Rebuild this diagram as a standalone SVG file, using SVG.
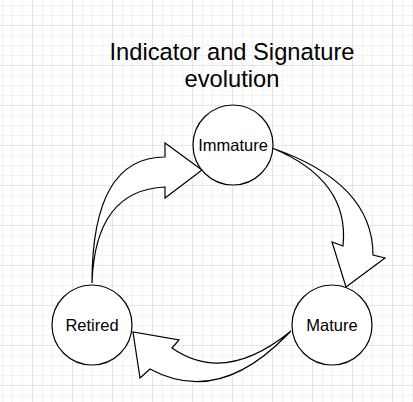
<svg xmlns="http://www.w3.org/2000/svg" width="413" height="402" viewBox="0 0 413 402">
  <style>
    .node circle { fill: #ffffff; stroke: #000000; stroke-width: 1.2; }
    .node text { font-family: "Liberation Sans", Arial, sans-serif; font-size: 16.5px; fill: #000000; text-anchor: middle; }
    .title { font-family: "Liberation Sans", Arial, sans-serif; font-size: 23.7px; fill: #000000; text-anchor: middle; }
    .arrow { fill: #ffffff; stroke: #000000; stroke-width: 1.2; stroke-linejoin: miter; }
  </style>
  <defs>
    <pattern id="minor" patternUnits="userSpaceOnUse" x="2" y="5" width="10" height="10">
      <path d="M0.5,0 V10 M0,0.5 H10" stroke="#f2f2f2" stroke-width="1" fill="none"/>
    </pattern>
    <pattern id="major" patternUnits="userSpaceOnUse" x="32" y="25" width="40" height="40">
      <path d="M0.5,0 V40 M0,0.5 H40" stroke="#e4e4e4" stroke-width="1" fill="none"/>
    </pattern>
  </defs>
  <rect x="0" y="0" width="413" height="402" fill="#ffffff"/>
  <rect x="0" y="0" width="413" height="402" fill="url(#minor)"/>
  <rect x="0" y="0" width="413" height="402" fill="url(#major)"/>

  <g id="title">
    <text class="title" x="232" y="60">Indicator and Signature</text>
    <text class="title" x="232" y="87">evolution</text>
  </g>

  <g id="connectors">
    <path id="retired-to-immature" class="arrow" d="M92,283 Q92,157 165,157 L165,143 L202,170 L165,198 L165,187 Q95,190 92,283 Z"/>
    <path id="immature-to-mature" class="arrow" d="M272,148 Q373,183 373,255 L385,258 L346,287 L332,242 L343,246 Q350,180 272,148 Z"/>
    <path id="mature-to-retired" class="arrow" d="M291,331 Q225,385 172,348 L179,340 L133,332 L140,378 L150,369 Q218,406 287,335 Z"/>
  </g>

  <g id="immature" class="node">
    <circle cx="233" cy="145" r="40"/>
    <text x="233" y="151">Immature</text>
  </g>
  <g id="mature" class="node">
    <circle cx="332" cy="325" r="40"/>
    <text x="332" y="331">Mature</text>
  </g>
  <g id="retired" class="node">
    <circle cx="92" cy="325" r="40"/>
    <text x="92" y="331">Retired</text>
  </g>
</svg>
